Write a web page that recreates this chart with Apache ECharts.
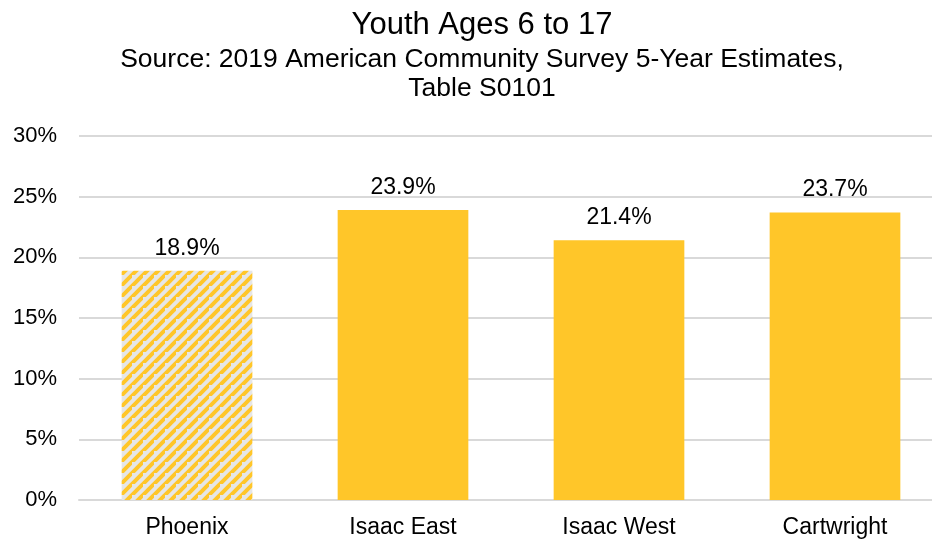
<!DOCTYPE html>
<html>
<head>
<meta charset="utf-8">
<script src="https://cdn.jsdelivr.net/npm/echarts@6/dist/echarts.min.js"></script>
<style>
html,body{margin:0;padding:0;background:#fff;overflow:hidden;}
#chart{width:932px;height:543px;}
</style>
</head>
<body>
<div id="chart"></div>
<script>
const categories = ['Phoenix', 'Isaac East', 'Isaac West', 'Cartwright'];
const values = [18.9, 23.9, 21.4, 23.7];
const hatched = [true, false, false, false];
const yTicks = [0, 5, 10, 15, 20, 25, 30];
const titleText = 'Youth Ages 6 to 17';
const subtitleLines = ['Source: 2019 American Community Survey 5-Year Estimates,', 'Table S0101'];

const YELLOW = '#FFC629';

function makeHatch() {
  const n = 11;
  const c = document.createElement('canvas');
  c.width = n; c.height = n;
  const ctx = c.getContext('2d');
  ctx.fillStyle = '#E6E6E6';
  ctx.fillRect(0, 0, n, n);
  ctx.strokeStyle = YELLOW;
  ctx.lineWidth = 4;
  ctx.beginPath();
  ctx.moveTo(-n, n * 2); ctx.lineTo(n * 2, -n);
  ctx.moveTo(-n * 2, n); ctx.lineTo(n, -n * 2);
  ctx.moveTo(0, n * 2); ctx.lineTo(n * 2, 0);
  ctx.stroke();
  return c;
}
const hatch = makeHatch();

const chart = echarts.init(document.getElementById('chart'), null, {renderer: 'canvas'});
const font = 'Liberation Sans, Arial, sans-serif';
const titleCenterX = 482;

function headText(text, y, size) {
  return {
    type: 'text', x: titleCenterX, y: y, silent: true,
    style: {text: text, fill: '#000', font: 'normal ' + size + 'px ' + font,
      textAlign: 'center', textVerticalAlign: 'middle'}
  };
}

chart.setOption({
  animation: false,
  backgroundColor: '#fff',
  graphic: [
    headText(titleText, 25.5, 31),
    headText(subtitleLines[0], 59.5, 26.5),
    headText(subtitleLines[1], 88.5, 26.5)
  ],
  grid: {left: 79, top: 136, width: 864, height: 364, containLabel: false, outerBoundsMode: 'none'},
  xAxis: {
    type: 'category', data: categories,
    axisLine: {lineStyle: {color: '#D9D9D9', width: 2}},
    axisTick: {show: false},
    axisLabel: {fontFamily: font, fontSize: 23, color: '#000', margin: 16}
  },
  yAxis: {
    type: 'value', min: 0, max: 30, interval: 5,
    axisLine: {show: false}, axisTick: {show: false},
    splitLine: {lineStyle: {color: '#D9D9D9', width: 2}},
    axisLabel: {fontFamily: font, fontSize: 22, color: '#000', margin: 22,
      formatter: v => yTicks.includes(v) ? v + '%' : ''}
  },
  series: [{
    type: 'bar',
    barWidth: '60.5%',
    data: values.map((v, i) => ({
      value: v,
      itemStyle: {color: hatched[i] ? {image: hatch, repeat: 'repeat'} : YELLOW}
    })),
    label: {show: true, position: 'top', distance: 11, fontFamily: font, fontSize: 23, color: '#000',
      formatter: p => p.value.toFixed(1) + '%'}
  }]
});
</script>
</body>
</html>
